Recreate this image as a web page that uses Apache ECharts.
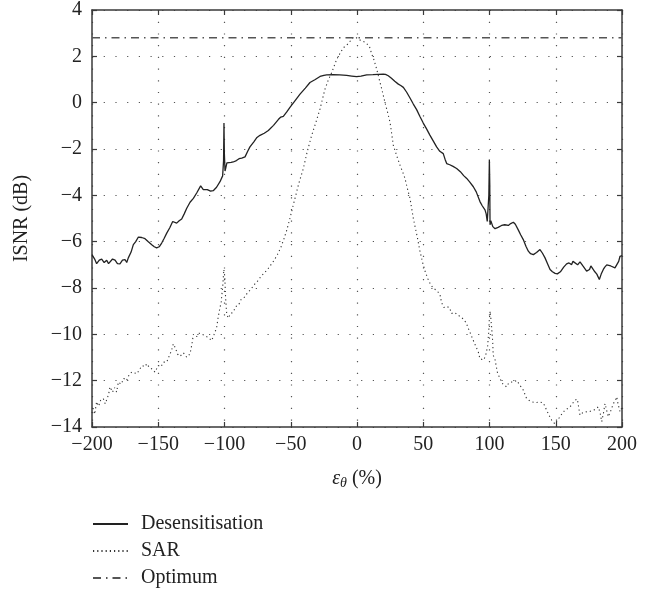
<!DOCTYPE html>
<html>
<head>
<meta charset="utf-8">
<script src="https://cdn.jsdelivr.net/npm/echarts@6/dist/echarts.min.js"></script>
<style>
  html, body { margin: 0; padding: 0; background: #fff; }
  #chart { width: 665px; height: 594px; }
</style>
</head>
<body>
<div id="chart"></div>
<script>
// values, [epsilon (%), ISNR (dB)]
const desensitisation = [
  [-200,-6.56],[-198,-6.75],[-196.5,-6.95],[-194.5,-6.8],[-192.7,-6.75],[-190.8,-6.9],[-188.9,-6.8],[-187.5,-6.95],
  [-186.4,-6.9],[-184.5,-6.75],[-182.6,-6.8],[-180.8,-6.95],[-178.9,-6.96],[-177,-6.8],[-175.1,-6.77],[-173.8,-6.9],
  [-172.6,-6.7],[-170.5,-6.45],[-168.8,-6.13],[-167,-6.0],[-165,-5.8],[-162.5,-5.82],[-160,-5.87],[-157.5,-6.0],
  [-154.9,-6.13],[-153,-6.22],[-151.2,-6.27],[-149.3,-6.22],[-147.4,-6.06],[-145.5,-5.85],[-143.6,-5.63],[-141.3,-5.4],
  [-139.1,-5.13],[-137.6,-5.18],[-136.1,-5.2],[-134.2,-5.1],[-132.3,-5.02],[-130.4,-4.8],[-128.5,-4.56],[-126,-4.3],
  [-123.5,-4.13],[-121,-3.9],[-118,-3.59],[-116,-3.75],[-113,-3.75],[-110.5,-3.82],[-108.5,-3.8],[-106,-3.65],
  [-103.4,-3.41],[-101.4,-3.16],[-100.7,-2.5],[-100.4,-0.88],[-100.1,-2.2],[-99.6,-2.95],[-99.1,-2.84],[-98.2,-2.6],
  [-97.1,-2.53],[-95,-2.58],[-93.4,-2.56],[-91,-2.5],[-89,-2.42],[-87,-2.39],[-84.5,-2.34],[-82.5,-2.1],
  [-80.8,-1.91],[-78,-1.7],[-75.5,-1.5],[-73.2,-1.41],[-70,-1.32],[-66.9,-1.2],[-63,-0.98],[-59.4,-0.73],
  [-57.5,-0.62],[-55.6,-0.59],[-53,-0.4],[-50.6,-0.2],[-47,0.07],[-43,0.37],[-39,0.63],[-35.5,0.87],
  [-31.5,1.0],[-27.9,1.13],[-25,1.18],[-22.9,1.2],[-18,1.21],[-13,1.2],[-7.8,1.18],[-4,1.15],
  [-0.3,1.12],[3,1.15],[7.3,1.2],[12,1.21],[16,1.22],[19.8,1.23],[21.5,1.22],[23.6,1.16],
  [26,1.05],[28.5,0.92],[31.2,0.8],[33,0.74],[35,0.66],[37.5,0.45],[40,0.2],[42.5,-0.06],
  [45,-0.3],[47.5,-0.6],[50,-0.88],[52.5,-1.13],[55,-1.4],[57.5,-1.65],[60.1,-1.91],[62.5,-2.1],
  [65.1,-2.2],[66.5,-2.45],[67.7,-2.63],[70,-2.68],[72.5,-2.75],[75.2,-2.84],[78,-2.98],[80.5,-3.15],
  [82.8,-3.27],[85,-3.42],[87.8,-3.63],[90,-3.85],[92.8,-4.27],[94.5,-4.45],[96.6,-4.63],[97.5,-4.8],
  [98.3,-5.13],[99,-5.2],[99.5,-4.0],[99.9,-2.45],[100.2,-3.5],[100.4,-5.27],[101,-5.1],[102.5,-5.35],
  [104.2,-5.44],[106.5,-5.38],[109.1,-5.3],[111.5,-5.27],[112.5,-5.35],[114.2,-5.3],[116,-5.22],[118,-5.16],
  [119.5,-5.25],[121.7,-5.49],[123.5,-5.7],[125.5,-5.91],[127.5,-6.2],[129.3,-6.41],[131,-6.52],[133.1,-6.56],
  [135.5,-6.47],[138.1,-6.34],[140,-6.5],[141.9,-6.7],[143.8,-6.95],[145.7,-7.2],[147.5,-7.3],[149.5,-7.37],
  [151.2,-7.39],[153.5,-7.3],[156,-7.1],[158.2,-6.96],[160,-6.92],[162,-6.99],[163,-6.85],[164.5,-6.81],
  [166.5,-7.0],[168.3,-6.87],[170.5,-7.05],[173.3,-7.27],[175.5,-7.2],[176.5,-7.05],[177.8,-7.13],[179.5,-7.3],
  [181,-7.4],[182.9,-7.63],[184.3,-7.4],[185.9,-7.2],[187,-7.1],[188.5,-7.0],[189.7,-6.99],[191.5,-7.05],
  [193,-7.0],[194.7,-7.13],[196,-7.08],[197.5,-6.85],[198.5,-6.63],[200,-6.6]
];

const sar = [
  [-200,-13.4],[-199,-13.2],[-198,-13.45],[-196.5,-12.91],[-195,-13.1],[-193.5,-12.85],[-191.5,-12.77],[-190,-13.0],
  [-188.9,-13.06],[-187.5,-12.6],[-186.4,-12.27],[-184.5,-12.5],[-183,-12.3],[-181.4,-12.49],[-180.1,-12.06],[-178,-12.15],
  [-176,-11.9],[-174,-12.0],[-172,-11.75],[-170,-11.63],[-168.8,-11.56],[-166,-11.7],[-164,-11.5],[-162,-11.35],
  [-160,-11.4],[-158.7,-11.27],[-156.5,-11.45],[-154.5,-11.5],[-152.5,-11.63],[-150,-11.35],[-148,-11.4],[-146,-11.2],
  [-143.6,-11.2],[-141.5,-10.9],[-140,-10.7],[-138.6,-10.41],[-137,-10.6],[-135.5,-10.85],[-133.6,-10.95],[-131,-10.8],
  [-128.5,-10.99],[-126,-10.84],[-124.5,-10.4],[-123.5,-10.0],[-121,-10.1],[-119,-9.95],[-117.3,-9.99],[-115,-10.05],
  [-112,-10.15],[-109.7,-10.27],[-107.8,-10.0],[-105.9,-9.7],[-104.9,-9.3],[-103.9,-8.99],[-102.5,-8.6],[-101.3,-7.9],
  [-100.5,-7.2],[-99.8,-7.5],[-99.2,-8.4],[-98.3,-9.15],[-97,-9.3],[-95.5,-9.1],[-93.5,-9.05],[-91.5,-8.8],
  [-89.5,-8.75],[-87.5,-8.5],[-85,-8.4],[-82.5,-8.2],[-80,-8.05],[-77.5,-7.85],[-75,-7.7],[-72.5,-7.5],
  [-70,-7.35],[-67.5,-7.2],[-65,-7.0],[-62.5,-6.8],[-60,-6.55],[-57.5,-6.25],[-55,-5.85],[-53,-5.5],
  [-50.6,-4.99],[-48.7,-4.55],[-46.8,-4.13],[-44,-3.5],[-40.5,-2.84],[-37.5,-2.1],[-34.2,-1.41],[-31,-0.85],
  [-27.9,-0.27],[-24.2,0.58],[-21.5,1.0],[-19.1,1.3],[-15.3,1.87],[-13.3,2.08],[-10.3,2.37],[-6.5,2.55],
  [-3.3,2.8],[-1,2.82],[2.3,2.7],[6,2.61],[9.3,2.44],[11.1,2.1],[12.8,1.85],[14.9,1.44],
  [17.4,0.87],[19.5,0.4],[21.1,0.01],[23,-0.4],[24.9,-0.84],[26.2,-1.35],[27.4,-1.84],[30,-2.3],
  [32.5,-2.7],[34.5,-3.0],[36.2,-3.27],[38,-3.7],[40,-4.13],[42.5,-4.99],[44,-5.4],[45.5,-5.8],
  [47.5,-6.4],[49.5,-6.9],[51.5,-7.3],[53.5,-7.6],[55.5,-7.85],[57.5,-8.0],[60,-8.1],[62.6,-8.27],
  [63.8,-8.63],[65.6,-8.84],[67.5,-8.8],[69.7,-8.84],[71.4,-9.1],[73,-9.05],[74.7,-9.1],[77,-9.2],
  [79,-9.27],[80.5,-9.35],[82.3,-9.49],[84,-9.74],[85.8,-9.99],[87.8,-10.27],[89.8,-10.53],[91.6,-10.77],
  [92.8,-11.06],[94.3,-11.0],[95.8,-11.1],[97.4,-10.84],[98.6,-10.5],[99.4,-9.9],[99.9,-9.34],[100.5,-9.0],
  [101,-9.3],[101.6,-9.7],[102.4,-10.3],[102.8,-10.9],[104.2,-11.1],[105.9,-11.63],[107.9,-11.91],[109.9,-12.13],
  [112.9,-12.27],[114.5,-12.1],[116.7,-12.06],[118.5,-12.05],[120.5,-11.99],[123,-12.2],[125.5,-12.41],[128,-12.77],
  [129.8,-12.85],[131.8,-12.91],[134.5,-12.95],[137.5,-12.92],[140.6,-12.96],[143.1,-13.27],[145,-13.5],[146.9,-13.7],
  [149.4,-13.87],[151.3,-13.7],[153.2,-13.56],[155,-13.4],[157,-13.27],[159,-13.2],[160.8,-13.13],[162.5,-13.0],
  [164.5,-12.84],[166.3,-12.8],[168.3,-13.49],[170,-13.4],[172.1,-13.34],[174.5,-13.35],[177.1,-13.3],[179.5,-13.25],
  [182.1,-13.13],[183.5,-13.4],[184.7,-13.77],[186,-13.4],[187.2,-12.99],[188.5,-13.3],[189.7,-13.56],[191.5,-13.3],
  [193.5,-12.99],[195,-12.85],[196,-12.7],[197,-13.0],[198.5,-13.34],[200,-13.15]
];

const optimumLevel = 2.8;
const xRange = [-200, 200];
const yRange = [-14, 4];

const font = '"Liberation Serif", "DejaVu Serif", serif';
const fs = 20;
const minus = v => String(v).replace('-', '\u2212');

const chart = echarts.init(document.getElementById('chart'));

const frameLine = { show: true, onZero: false, lineStyle: { color: '#3a3a3a', width: 1.5 } };
const inTick = { show: true, inside: true, length: 5, lineStyle: { color: '#3a3a3a', width: 1.2 } };
const dotGrid = { show: true, lineStyle: { color: '#555', width: 1.2, type: [1.2, 10.5] } };

chart.setOption({
  animation: false,
  backgroundColor: '#fff',
  textStyle: { fontFamily: font },
  grid: { left: 92, right: 43, top: 7, bottom: 167 },
  legend: {
    orient: 'vertical',
    left: 92,
    top: 514,
    itemWidth: 35,
    itemHeight: 14,
    itemGap: 7,
    padding: 0,
    itemStyle: { color: 'rgba(0,0,0,0)', borderWidth: 0 },
    textStyle: { fontFamily: font, fontSize: fs, color: '#222', padding: [0, 0, 0, 8] },
    data: ['Desensitisation', 'SAR', 'Optimum']
  },
  xAxis: [
    {
      type: 'value', min: xRange[0], max: xRange[1], interval: 50,
      name: '{e|\u03b5}{s|\u03b8} (%)',
      nameLocation: 'middle', nameGap: 40,
      nameTextStyle: {
        fontFamily: font, fontSize: fs, color: '#222',
        rich: {
          e: { fontFamily: font, fontSize: fs, fontStyle: 'italic', color: '#222' },
          s: { fontFamily: font, fontSize: 14, fontStyle: 'italic', color: '#222', verticalAlign: 'bottom', padding: [9, 0, 0, 0] }
        }
      },
      axisLine: frameLine, axisTick: inTick, splitLine: dotGrid,
      axisLabel: { fontFamily: font, fontSize: fs, color: '#222', margin: 8, formatter: minus }
    },
    {
      type: 'value', position: 'top', min: xRange[0], max: xRange[1], interval: 50,
      axisLine: frameLine, axisTick: inTick, splitLine: { show: false }, axisLabel: { show: false }
    }
  ],
  yAxis: [
    {
      type: 'value', min: yRange[0], max: yRange[1], interval: 2,
      name: 'ISNR (dB)', nameLocation: 'middle', nameGap: 60,
      nameTextStyle: { fontFamily: font, fontSize: fs, color: '#222' },
      axisLine: frameLine, axisTick: inTick, splitLine: dotGrid,
      axisLabel: { fontFamily: font, fontSize: fs, color: '#222', margin: 10, formatter: minus }
    },
    {
      type: 'value', position: 'right', min: yRange[0], max: yRange[1], interval: 2,
      axisLine: frameLine, axisTick: inTick, splitLine: { show: false }, axisLabel: { show: false }
    }
  ],
  series: [
    {
      name: 'Desensitisation', type: 'line', showSymbol: false, symbol: 'none',
      data: desensitisation,
      lineStyle: { color: '#222', width: 1.3 }, itemStyle: { color: '#222' }
    },
    {
      name: 'SAR', type: 'line', showSymbol: false, symbol: 'none',
      data: sar,
      lineStyle: { color: '#333', width: 1.1, type: [1.2, 3] }, itemStyle: { color: '#333' }
    },
    {
      name: 'Optimum', type: 'line', showSymbol: false, symbol: 'none',
      data: [[xRange[0], optimumLevel], [xRange[1], optimumLevel]],
      lineStyle: { color: '#555', width: 1.5, type: [8, 5, 1.5, 5] }, itemStyle: { color: '#555' }
    }
  ]
});
</script>
</body>
</html>
